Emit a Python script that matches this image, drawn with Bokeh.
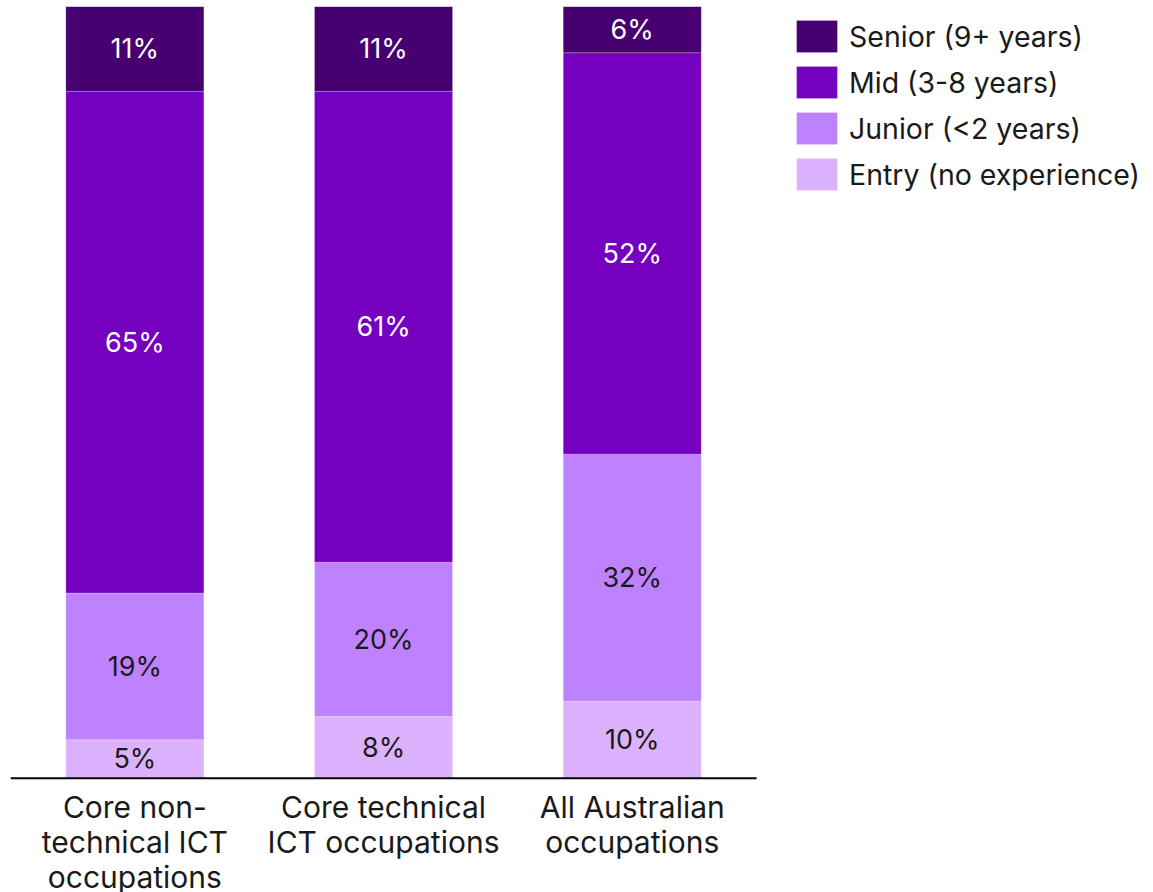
from bokeh.plotting import figure
from bokeh.models import ColumnDataSource, Legend, LegendItem
from bokeh.core.properties import value
from bokeh.embed import file_html
from bokeh.resources import INLINE

# Share of job ads by experience level, per occupation group (%)
categories = [
    "Core non-\ntechnical ICT\noccupations",
    "Core technical\nICT occupations",
    "All Australian\noccupations",
]
entry = [5, 8, 10]
junior = [19, 20, 32]
mid = [65, 61, 52]
senior = [11, 11, 6]

levels = ["entry", "junior", "mid", "senior"]
level_names = {
    "senior": "Senior (9+ years)",
    "mid": "Mid (3-8 years)",
    "junior": "Junior (<2 years)",
    "entry": "Entry (no experience)",
}
colors = {
    "entry": "#dcb2ff",
    "junior": "#bf82ff",
    "mid": "#7500c0",
    "senior": "#460070",
}
label_colors = {
    "entry": "#1a1a1a",
    "junior": "#1a1a1a",
    "mid": "#ffffff",
    "senior": "#ffffff",
}

FONT = "Inter"
n = len(categories)
pos = list(range(n))

source = ColumnDataSource(dict(x=pos, entry=entry, junior=junior, mid=mid, senior=senior))

# One frame covering the whole canvas: bars on the left, legend on the right,
# category names under the baseline.
p = figure(
    x_range=(-0.5, 4.096),
    y_range=(-14.8, 100),
    frame_width=1143,
    frame_height=886,
    min_border_left=10,
    min_border_right=0,
    min_border_top=6,
    min_border_bottom=0,
    output_backend="svg",
    toolbar_location=None,
)

renderers = p.vbar_stack(
    levels,
    x="x",
    width=0.555,
    source=source,
    color=[colors[k] for k in levels],
    line_color="white",
    line_width=0.6,
    line_alpha=0.35,
)

# Baseline under the bars
p.segment(x0=-0.5, y0=0, x1=n - 0.5, y1=0, line_color="black", line_width=2)

# Value labels centred in each segment
xs, ys, txt, tcol = [], [], [], []
series = dict(entry=entry, junior=junior, mid=mid, senior=senior)
for i in pos:
    base = 0
    for k in levels:
        v = series[k][i]
        xs.append(i)
        ys.append(base + v / 2)
        txt.append(f"{v}%")
        tcol.append(label_colors[k])
        base += v
lbl = ColumnDataSource(dict(x=xs, y=ys, t=txt, c=tcol))
p.text(
    x="x", y="y", text="t", text_color="c", source=lbl,
    text_align="center", text_baseline="middle",
    text_font=value(FONT), text_font_size="27px",
)

# Category names, one line at a time below the baseline
cx, cy, ct, coff = [], [], [], []
for i, cat in zip(pos, categories):
    for j, line in enumerate(cat.split("\n")):
        cx.append(i)
        cy.append(0)
        ct.append(line)
        coff.append(29 + 35 * j)
cat_src = ColumnDataSource(dict(x=cx, y=cy, t=ct, off=coff))
p.text(
    x="x", y="y", text="t", y_offset="off", source=cat_src,
    text_align="center", text_baseline="middle",
    text_color="#1a1a1a",
    text_font=value(FONT), text_font_size="30px",
)

# Legend, top first
items = [LegendItem(label=level_names[k], renderers=[r])
         for k, r in reversed(list(zip(levels, renderers)))]
legend = Legend(
    items=items,
    location=(781, 698),
    glyph_width=51,
    glyph_height=40,
    label_height=40,
    spacing=6,
    label_standoff=7,
    padding=0,
    margin=0,
    border_line_color=None,
    background_fill_alpha=0,
    label_text_font=FONT,
    label_text_font_size="28.5px",
    label_text_color="#1a1a1a",
)
p.add_layout(legend, "center")

p.xaxis.visible = False
p.yaxis.visible = False
p.xgrid.grid_line_color = None
p.ygrid.grid_line_color = None
p.outline_line_color = None

open("out.html", "w").write(file_html(p, INLINE))
